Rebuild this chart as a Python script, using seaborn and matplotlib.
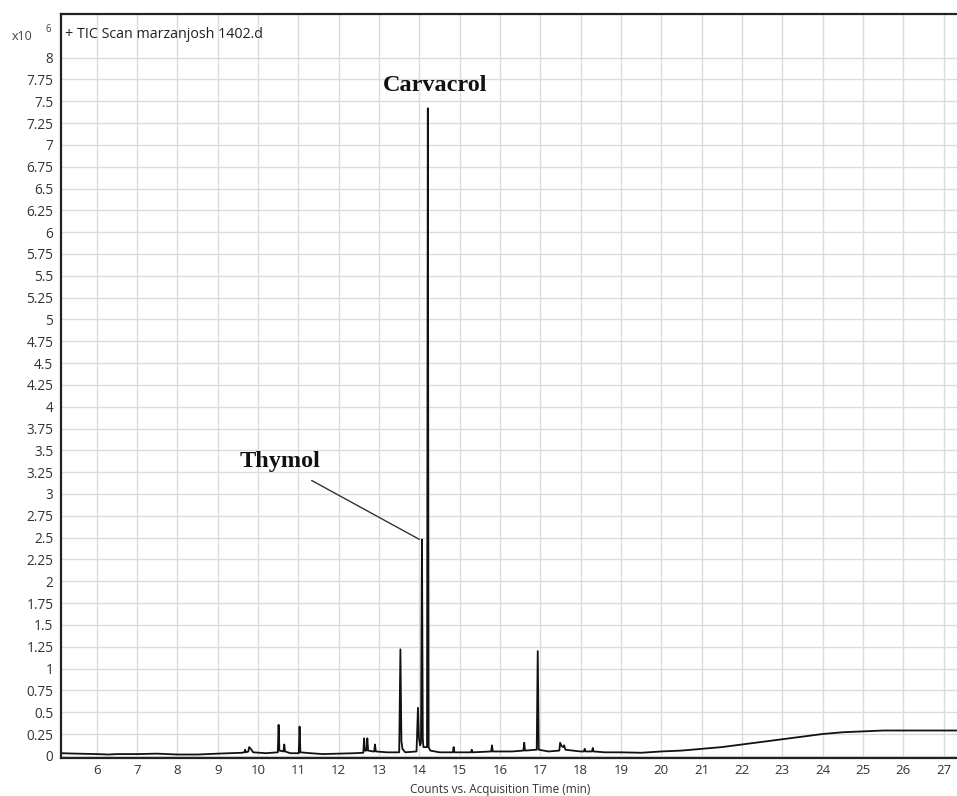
import numpy as np
import pandas as pd
import matplotlib
matplotlib.use('Agg')
import matplotlib.pyplot as plt
import seaborn as sns

# TIC trace (time in min, counts in x10^6)
times = [5.12, 5.5, 6.0, 6.3, 6.5, 7.0, 7.5, 8.0, 8.5, 9.0, 9.3, 9.6, 9.66, 9.68, 9.70, 9.76,
         9.78, 9.82, 9.88, 10.2, 10.49, 10.51, 10.53, 10.63, 10.65, 10.67, 10.8, 11.01, 11.03,
         11.05, 11.3, 11.6, 12.0, 12.4, 12.61, 12.63, 12.65, 12.69, 12.71, 12.73, 12.85, 12.88,
         12.90, 12.92, 13.2, 13.5, 13.53, 13.555, 13.58, 13.65, 13.93, 13.965, 13.99, 14.02,
         14.04, 14.065, 14.085, 14.1, 14.19, 14.21, 14.23, 14.27, 14.5, 14.83, 14.85, 14.87,
         15.28, 15.3, 15.32, 15.78, 15.8, 15.82, 16.3, 16.58, 16.6, 16.62, 16.91, 16.935, 16.96,
         17.2, 17.47, 17.49, 17.53, 17.57, 17.59, 17.62, 17.8, 18.0, 18.08, 18.1, 18.12, 18.28,
         18.3, 18.32, 18.6, 19.0, 19.5, 20.0, 20.5, 21.0, 21.5, 22.0, 22.5, 23.0, 23.5, 24.0,
         24.5, 25.0, 25.5, 26.0, 26.5, 27.0, 27.4]
counts = [0.03, 0.025, 0.02, 0.015, 0.02, 0.02, 0.025, 0.015, 0.015, 0.025, 0.03, 0.035, 0.04,
          0.07, 0.04, 0.05, 0.10, 0.08, 0.04, 0.03, 0.04, 0.355, 0.06, 0.05, 0.13, 0.05, 0.03,
          0.03, 0.335, 0.04, 0.03, 0.02, 0.025, 0.03, 0.035, 0.20, 0.06, 0.06, 0.20, 0.06, 0.05,
          0.05, 0.13, 0.05, 0.04, 0.04, 1.22, 0.17, 0.08, 0.04, 0.05, 0.55, 0.20, 0.12, 0.15,
          2.48, 0.20, 0.10, 0.10, 7.42, 0.10, 0.06, 0.04, 0.04, 0.10, 0.04, 0.04, 0.07, 0.04,
          0.05, 0.12, 0.05, 0.05, 0.06, 0.15, 0.06, 0.07, 1.20, 0.07, 0.05, 0.06, 0.15, 0.11,
          0.10, 0.12, 0.07, 0.06, 0.05, 0.05, 0.08, 0.05, 0.05, 0.09, 0.05, 0.04, 0.04, 0.035,
          0.05, 0.06, 0.08, 0.10, 0.13, 0.16, 0.19, 0.22, 0.25, 0.27, 0.28, 0.29, 0.29, 0.29,
          0.29, 0.29]

x_ticks = list(range(6, 28))
y_ticks = [0, 0.25, 0.5, 0.75, 1, 1.25, 1.5, 1.75, 2, 2.25, 2.5, 2.75, 3, 3.25, 3.5, 3.75,
           4, 4.25, 4.5, 4.75, 5, 5.25, 5.5, 5.75, 6, 6.25, 6.5, 6.75, 7, 7.25, 7.5, 7.75, 8]
y_labels = ['0', '0.25', '0.5', '0.75', '1', '1.25', '1.5', '1.75', '2', '2.25', '2.5', '2.75',
            '3', '3.25', '3.5', '3.75', '4', '4.25', '4.5', '4.75', '5', '5.25', '5.5', '5.75',
            '6', '6.25', '6.5', '6.75', '7', '7.25', '7.5', '7.75', '8']

df = pd.DataFrame({'time': times, 'counts': counts})

sns.set_style('white')
plt.rcParams['font.family'] = ['Open Sans', 'DejaVu Sans']

fig = plt.figure(figsize=(9.57, 7.96), dpi=100)
ax = fig.add_axes([61 / 957, 1 - 758 / 796, 1 - 61 / 957, (758 - 14) / 796])

sns.lineplot(data=df, x='time', y='counts', ax=ax, color='#111111', lw=1.3,
             estimator=None, sort=False)

ax.set_xlim(5.115, 27.33)
ax.set_ylim(-0.025, 8.5)
ax.set_xticks(x_ticks)
ax.set_xticklabels([str(t) for t in x_ticks])
ax.set_yticks(y_ticks)
ax.set_yticklabels(y_labels)
ax.grid(True, color='#dcdcdc', lw=1)
ax.set_axisbelow(True)
ax.tick_params(axis='both', direction='out', length=3.5, width=1, color='#333333',
               labelsize=9.8, labelcolor='#333333', pad=2)
ax.tick_params(axis='x', labelsize=9.5, pad=1)
ax.set_xlabel('')
ax.set_ylabel('')
fig.text(500 / 957, 0.5 / 796, 'Counts vs. Acquisition Time (min)', fontsize=8.5,
         color='#333333', ha='center', va='bottom')
for side in ['top', 'left', 'bottom']:
    ax.spines[side].set_color('#222222')
    ax.spines[side].set_linewidth(1.6)
ax.spines['right'].set_visible(False)

ax.text(0.005, 0.982, '+ TIC Scan marzanjosh 1402.d', transform=ax.transAxes,
        fontsize=10.3, color='#222222', va='top', ha='left')
fig.text(12 / 957, 1 - 36 / 796, 'x10', fontsize=9, color='#444444', va='center', ha='left')
fig.text(46 / 957, 1 - 30 / 796, '6', fontsize=7, color='#444444', va='center', ha='left')

serif = dict(family=['Liberation Serif', 'DejaVu Serif'], fontweight='bold', color='#111111')
ax.text(14.40, 7.68, 'Carvacrol', fontsize=17.5, ha='center', va='center', **serif)
ax.text(10.55, 3.37, 'Thymol', fontsize=17.5, ha='center', va='center', **serif)
ax.plot([11.33, 14.0], [3.155, 2.48], color='#333333', lw=1)

fig.savefig('out.png', dpi=100)
plt.close(fig)
